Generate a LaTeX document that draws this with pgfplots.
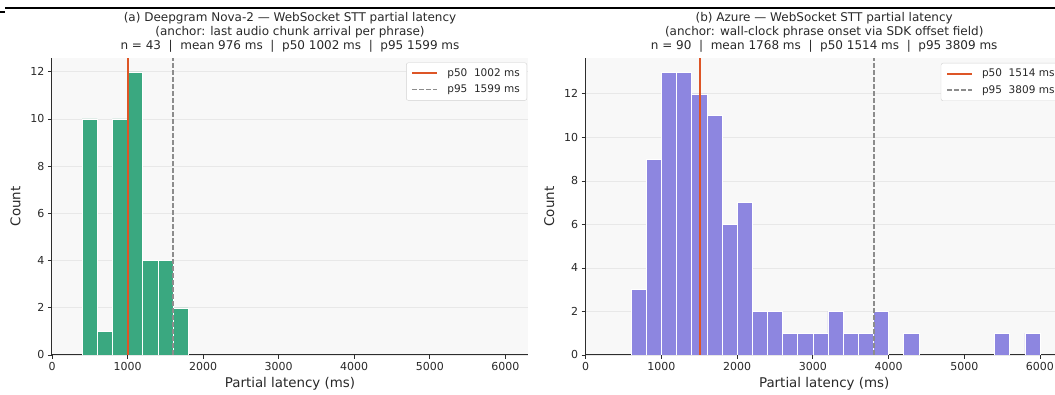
\documentclass[border=0pt]{standalone}
\usepackage{fontspec}
\setmainfont{DejaVu Sans}
\usepackage{pgfplots}
\pgfplotsset{compat=1.18}
\definecolor{bggray}{RGB}{248,248,248}
\definecolor{gridc}{RGB}{232,232,232}
\definecolor{greenbar}{RGB}{58,168,128}
\definecolor{purplebar}{RGB}{141,134,224}
\definecolor{p50red}{RGB}{221,85,38}
\definecolor{p95gray}{RGB}{140,140,140}
\definecolor{axc}{RGB}{45,45,45}
\definecolor{txt}{RGB}{40,40,40}
\pgfplotsset{
 hist/.style={
  scale only axis,
  axis x line=bottom, axis y line=left,
  axis line style={-, axc, line width=1pt},
  axis background/.style={fill=bggray},
  tick align=outside,
  major tick length=4pt,
  tick style={axc, line width=0.8pt},
  xmin=0, xmax=6300,
  xtick={0,1000,...,6000},
  ytick={0,2,...,12},
  ymin=0,
  ymajorgrids, grid style={gridc, line width=0.8pt},
  /pgf/number format/assume math mode=true,
  /pgf/number format/set thousands separator={},
  ticklabel style={font=\fontsize{11}{12}\selectfont, text=txt},
  label style={font=\fontsize{13.4}{15}\selectfont, text=txt},
  xlabel={Partial latency (ms)}, ylabel={Count},
  ylabel style={xshift=0pt, yshift=3pt},
  title style={font=\fontsize{12}{14}\selectfont, align=center, text=txt, yshift=-4pt},
  legend style={at={(1,1)}, anchor=north east, xshift=-1pt, yshift=-5pt,
    draw={rgb,255:red,210;green,210;blue,210}, rounded corners=2pt, fill=white,
    font=\fontsize{10.5}{12}\selectfont, text=txt, row sep=3pt, inner xsep=5pt, inner ysep=4pt},
  legend cell align=left,
  legend image code/.code={\draw[##1] (0pt,0pt) -- (25pt,0pt); \path (32pt,0pt);},
 }
}
\begin{document}
\begin{tikzpicture}[x=1pt,y=1pt]
\path[use as bounding box] (0,0) rectangle (1055,395);
\draw[line width=1.3pt] (5,387) -- (1055,387);
\draw[line width=1.3pt] (0,383) -- (5,383);
\begin{axis}[hist, at={(52pt,40pt)}, anchor=south west, width=476pt, height=297.4pt, ymax=12.6,
  title={(a) Deepgram Nova-2 — WebSocket STT partial latency\\(anchor: last audio chunk arrival per phrase)\\n = 43 \ |\ \ mean 976 ms \ |\ \ p50 1002 ms \ |\ \ p95 1599 ms}]
\addplot[ybar, bar width=200, bar shift=0pt, fill=greenbar, draw=white, line width=0.5pt, forget plot]
 coordinates {(500,10) (700,1) (900,10) (1100,12) (1300,4) (1500,4) (1700,2)};
\addplot[p50red, line width=2pt] coordinates {(1002,0) (1002,12.6)};
\addlegendentry{p50\ \ 1002 ms}
\addplot[p95gray, line width=1.5pt, dash pattern=on 4.5pt off 2.5pt] coordinates {(1599,0) (1599,12.6)};
\addlegendentry{p95\ \ 1599 ms}
\end{axis}
\begin{axis}[hist, at={(585.7pt,40pt)}, anchor=south west, width=477pt, height=297pt, ymax=13.65,
  title={(b) Azure — WebSocket STT partial latency\\(anchor: wall-clock phrase onset via SDK offset field)\\n = 90 \ |\ \ mean 1768 ms \ |\ \ p50 1514 ms \ |\ \ p95 3809 ms}]
\addplot[ybar, bar width=200, bar shift=0pt, fill=purplebar, draw=white, line width=0.5pt, forget plot]
 coordinates {(700,3) (900,9) (1100,13) (1300,13) (1500,12) (1700,11) (1900,6) (2100,7)
  (2300,2) (2500,2) (2700,1) (2900,1) (3100,1) (3300,2) (3500,1) (3700,1) (3900,2)
  (4300,1) (5500,1) (5900,1)};
\addplot[p50red, line width=2pt] coordinates {(1514,0) (1514,13.65)};
\addlegendentry{p50\ \ 1514 ms}
\addplot[p95gray, line width=1.5pt, dash pattern=on 4.5pt off 2.5pt] coordinates {(3809,0) (3809,13.65)};
\addlegendentry{p95\ \ 3809 ms}
\end{axis}
\end{tikzpicture}
\end{document}
